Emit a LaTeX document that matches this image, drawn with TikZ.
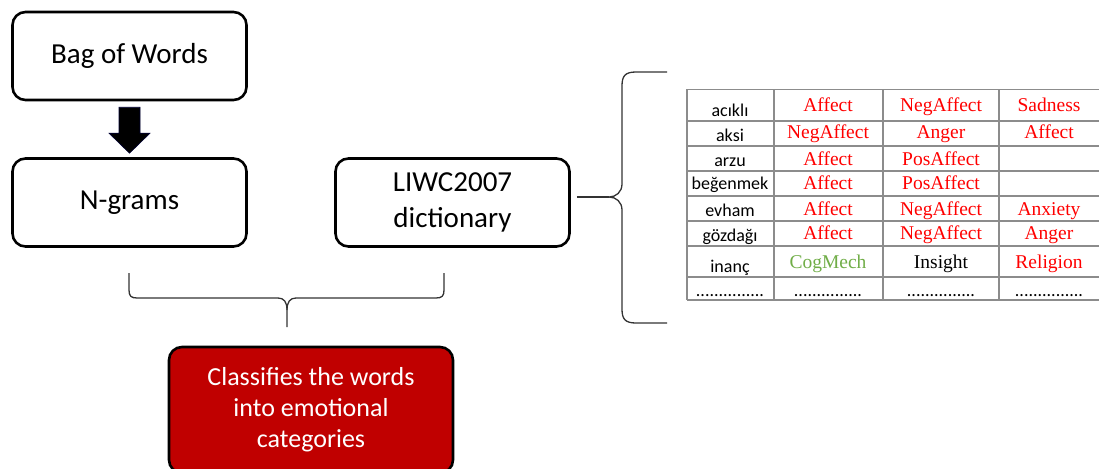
\documentclass[tikz,border=0pt]{standalone}
\usepackage{fontspec}
\setmainfont{Carlito}
\newfontfamily\tabserif{Liberation Serif}
\usetikzlibrary{arrows.meta}
\definecolor{boxred}{HTML}{C00000}
\definecolor{tred}{HTML}{FF0000}
\definecolor{tgreen}{HTML}{70AD47}
\definecolor{gridgray}{HTML}{8C8C8C}
\definecolor{bracegray}{HTML}{333333}
\tikzset{
  flowbox/.style={draw=black, line width=2.6pt, rounded corners=13pt, fill=white,
    minimum width=234pt, minimum height=88pt, align=center, inner sep=0pt,
    font=\fontsize{29}{36}\selectfont},
  redbox/.style={flowbox, fill=boxred, text=white, minimum width=284pt, minimum height=126pt,
    font=\fontsize{26}{31}\selectfont},
  bracestyle/.style={draw=bracegray, line width=1.3pt},
  gridline/.style={draw=gridgray, line width=1.3pt},
  wordcell/.style={anchor=base, inner sep=0pt, font=\fontsize{18}{20}\selectfont},
  catcell/.style={anchor=base, inner sep=0pt, text=tred, font=\tabserif\fontsize{19.5}{21}\selectfont},
  blockarrow/.style={draw=black!80!blue, fill=black, line width=0.6pt}
}
\begin{document}
\begin{tikzpicture}[x=1pt,y=-1pt]
\useasboundingbox (0,0) rectangle (1099,468);
% boxes
\node[flowbox] (bow) at (129.5,56) {\raisebox{-3pt}{Bag of Words}};
\node[flowbox] (ng) at (129.5,202.5) {\raisebox{-3pt}{N-grams}};
\node[flowbox] (liwc) at (452.5,202.5) {LIWC2007\\dictionary};
\node[redbox] (cls) at (311,410) {Classifies the words\\into emotional\\categories};
% block arrow
\coordinate (a0) at ([yshift=-6pt]bow.south);
\coordinate (a1) at ([yshift=4pt]ng.north);
\path[blockarrow] ([xshift=-10.5pt]a0) -- ([xshift=10.5pt]a0) -- ([xshift=10.5pt,yshift=20pt]a1)
  -- ([xshift=20.5pt,yshift=20pt]a1) -- (a1) -- ([xshift=-20.5pt,yshift=20pt]a1)
  -- ([xshift=-10.5pt,yshift=20pt]a1) -- cycle;
% bottom brace
\coordinate (bl) at (129,273);
\coordinate (br) at (444,273);
\coordinate (bt) at (287,327);
\draw[bracestyle] (bl) -- (129,290) .. controls (129,296) and (131,298) .. (137,298) -- (278,298)
  .. controls (284,298) and (287,302) .. (287,310) -- (bt);
\draw[bracestyle] (287,310) .. controls (287,302) and (290,298) .. (296,298) -- (436,298)
  .. controls (442,298) and (444,296) .. (444,290) -- (br);
% right brace
\coordinate (rt) at (609,197);
\draw[bracestyle] (667,72) -- (636,72) .. controls (625,72) and (622,76) .. (622,86) -- (622,184)
  .. controls (622,192) and (616,197) .. (rt) .. controls (616,197) and (622,202) .. (622,210)
  -- (622,309) .. controls (622,319) and (625,323) .. (636,323) -- (667,323);
\draw[bracestyle] ([xshift=6pt]liwc.east |- rt) -- (rt);
% table grid
\foreach \y in {89.5,121,146,171,196,221,246,277,300}
  \draw[gridline] (687,\y) -- (1099,\y);
\foreach \x in {687,774,883,999}
  \draw[gridline] (\x,89.5) -- (\x,300);
% column 1
\node[wordcell] (w1) at (730,117) {acıklı};
\node[wordcell] (w2) at (730,141) {aksi};
\node[wordcell] (w3) at (730,166) {arzu};
\node[wordcell] (w4) at (730,189) {beğenmek};
\node[wordcell] (w5) at (730,216) {evham};
\node[wordcell] (w6) at (730,241) {gözdağı};
\node[wordcell] (w7) at (730,272) {inanç};
\node[wordcell] (w8) at (730,296) {...............};
% column 2
\node[catcell] (c21) at (828,112) {Affect};
\node[catcell] (c22) at (828,139) {NegAffect};
\node[catcell] (c23) at (828,165) {Affect};
\node[catcell] (c24) at (828,189) {Affect};
\node[catcell] (c25) at (828,215) {Affect};
\node[catcell] (c26) at (828,239) {Affect};
\node[catcell, text=tgreen] (c27) at (828,268) {CogMech};
\node[wordcell] (c28) at (828,296) {...............};
% column 3
\node[catcell] (c31) at (941,112) {NegAffect};
\node[catcell] (c32) at (941,139) {Anger};
\node[catcell] (c33) at (941,165) {PosAffect};
\node[catcell] (c34) at (941,189) {PosAffect};
\node[catcell] (c35) at (941,215) {NegAffect};
\node[catcell] (c36) at (941,239) {NegAffect};
\node[catcell, text=black] (c37) at (941,268) {Insight};
\node[wordcell] (c38) at (941,296) {...............};
% column 4
\node[catcell] (c41) at (1049,112) {Sadness};
\node[catcell] (c42) at (1049,139) {Affect};
\node[catcell] (c45) at (1049,215) {Anxiety};
\node[catcell] (c46) at (1049,239) {Anger};
\node[catcell] (c47) at (1049,268) {Religion};
\node[wordcell] (c48) at (1049,296) {...............};
\end{tikzpicture}
\end{document}
